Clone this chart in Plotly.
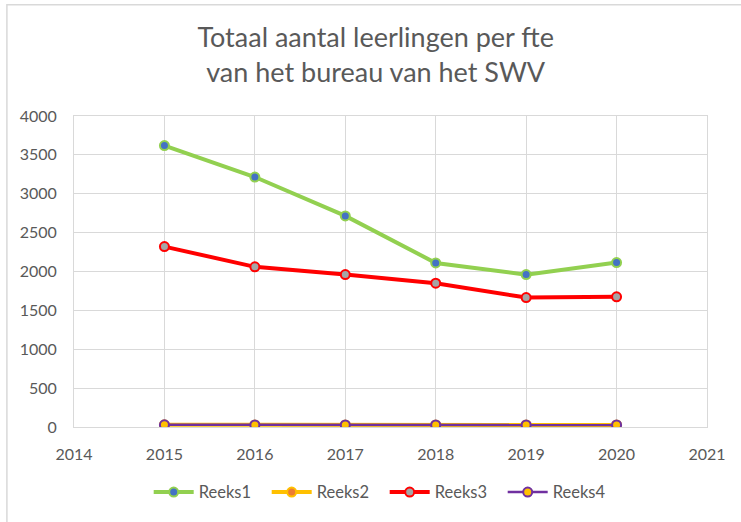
import plotly.graph_objects as go

years = [2015, 2016, 2017, 2018, 2019, 2020]
reeks1 = [3620, 3215, 2715, 2110, 1960, 2115]
reeks2 = [28, 27, 27, 27, 26, 26]
reeks3 = [2320, 2060, 1960, 1850, 1665, 1675]
reeks4 = [28, 27, 27, 27, 26, 26]

series = [
    ("Reeks1", reeks1, "#92D050", "#4472C4", 4),
    ("Reeks2", reeks2, "#FFC000", "#ED7D31", 4),
    ("Reeks3", reeks3, "#FF0000", "#A5A5A5", 4),
    ("Reeks4", reeks4, "#7030A0", "#FFC000", 2.5),
]

FONT = "Lato, 'Open Sans', sans-serif"
GRAY = "#595959"
GRID = "#D9D9D9"

fig = go.Figure()
for name, vals, lc, mc, lw in series:
    fig.add_trace(go.Scatter(
        x=years, y=vals, name=name, mode="lines+markers",
        line=dict(color=lc, width=lw),
        marker=dict(color=mc, size=9, line=dict(color=lc, width=2)),
    ))

fig.update_layout(
    width=741, height=522,
    paper_bgcolor="white", plot_bgcolor="white",
    margin=dict(l=74, r=34, t=116, b=91),
    title=dict(
        text="Totaal aantal leerlingen per fte<br>van het bureau van het SWV",
        x=0.507, xanchor="center", y=0.91, yanchor="middle",
        font=dict(family=FONT, size=27, color=GRAY),
    ),
    font=dict(family=FONT, color=GRAY),
    showlegend=True,
    legend=dict(
        orientation="h", x=0.118, xanchor="left", y=-0.21, yanchor="middle",
        font=dict(family=FONT, size=16.5, color=GRAY),
        itemwidth=40, entrywidth=63, entrywidthmode="pixels",
    ),
    xaxis=dict(
        range=[2014, 2021], dtick=1, tick0=2014,
        showgrid=True, gridcolor=GRID, gridwidth=1,
        showline=True, linecolor=GRID, linewidth=1, mirror=True,
        zeroline=False, ticks="", ticklabelstandoff=13,
        tickfont=dict(family=FONT, size=16, color=GRAY),
    ),
    yaxis=dict(
        range=[0, 4000], dtick=500,
        showgrid=True, gridcolor=GRID, gridwidth=1,
        showline=True, linecolor=GRID, linewidth=1, mirror=True,
        zeroline=False, ticks="", ticklabelstandoff=13,
        tickfont=dict(family=FONT, size=16, color=GRAY),
    ),
    shapes=[
        dict(type="rect", xref="paper", yref="paper",
             x0=-0.106, x1=1.2, y0=-0.4, y1=1.358,
             line=dict(color=GRID, width=1.5), fillcolor="rgba(0,0,0,0)",
             layer="below"),
    ],
)

fig.write_html("out.html", config={"displayModeBar": False},
               post_script="document.body.style.margin='0';")
